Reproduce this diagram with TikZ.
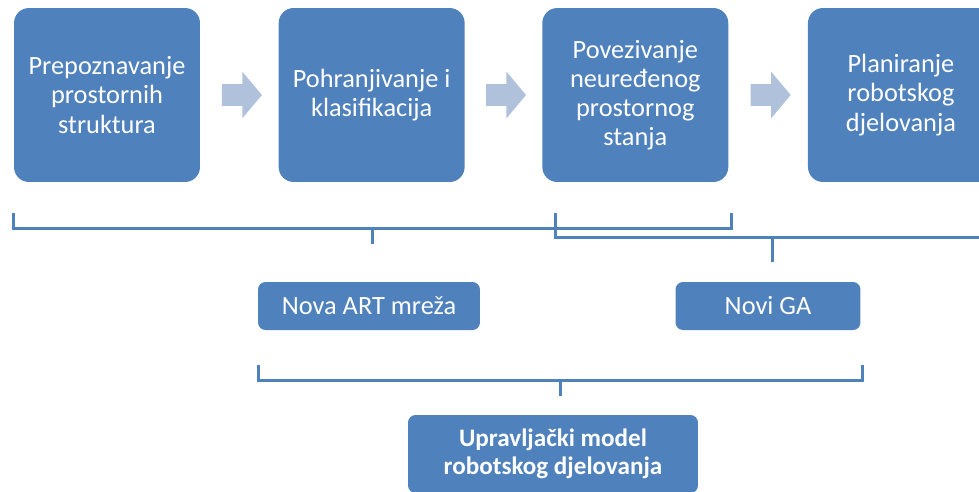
\documentclass[tikz,border=0pt]{standalone}
\usepackage{fontspec}
\setmainfont{Carlito}
\usetikzlibrary{positioning,calc,shapes.arrows}
\definecolor{boxblue}{HTML}{4F81BD}
\definecolor{arrowblue}{HTML}{B0C1DC}

\begin{document}
\begin{tikzpicture}[x=0.02cm, y=-0.02cm]
\tikzstyle{phase}=[fill=boxblue,text=white,rounded corners=0.3cm,minimum width=3.72cm,minimum height=3.48cm,align=center,font=\fontsize{15}{16.6}\selectfont]
\tikzstyle{tool}=[fill=boxblue,text=white,rounded corners=0.15cm,minimum height=0.96cm,align=center,font=\fontsize{15}{16}\selectfont]
\tikzstyle{flow}=[single arrow,fill=arrowblue,inner xsep=0pt,inner ysep=0.21cm,minimum height=0.8cm,single arrow head extend=0.25cm,single arrow tip angle=100]
\tikzstyle{brace}=[draw=boxblue,line width=1.7pt]
\clip (0,0) rectangle (979,491);

% top row
\node[phase]    (p1) at (107,95)          {Prepoznavanje\\prostornih\\struktura};
\node[phase]    (p2) [right=1.56cm of p1] {Pohranjivanje i\\klasifikacija};
\node[phase]    (p3) [right=1.54cm of p2] {Povezivanje\\neuređenog\\prostornog\\stanja};
\node[phase]    (p4) [right=1.58cm of p3] {Planiranje\\robotskog\\djelovanja};

\node[flow] (a1) at ($(p1.east)!0.5!(p2.west)+(-2,0)$) {};
\node[flow] (a2) at ($(p2.east)!0.5!(p3.west)+(-2,0)$) {};
\node[flow] (a3) at ($(p3.east)!0.5!(p4.west)+(-2,0)$) {};

% methods
\node[tool,minimum width=4.44cm] (art) at (369,306) {Nova ART mreža};
\node[tool,minimum width=3.7cm]  (ga)  at (768,306) {Novi GA};
\node[tool,minimum width=5.8cm,minimum height=1.56cm,font=\fontsize{14.3}{16}\selectfont\bfseries] (model) at (553,454) {Upravljački model\\robotskog djelovanja};

% brackets
\coordinate (b1l) at ($(p1.south west)+(0,31)$);
\coordinate (b1r) at ($(p3.south east)+(3,31)$);
\coordinate (b2l) at ($(p3.south west)+(14,31)$);
\coordinate (b2r) at ($(p4.south east)+(-5,31)$);
\coordinate (b3l) at ($(art.south west)+(1,35)$);
\coordinate (b3r) at ($(ga.south east)+(2,35)$);

\draw[brace] (b1l) -- ++(0,15) -| (b1r);
\draw[brace] ($(b1l)!0.5!(b1r)+(0,15)$) -- ++(0,16);
\draw[brace] (b2l) -- ++(0,24) -| (b2r);
\draw[brace] ($(b2l)!0.5!(b2r)+(0,24)$) -- ++(0,25);
\draw[brace] (b3l) -- ++(0,15) -| (b3r);
\draw[brace] ($(b3l)!0.5!(b3r)+(0,15)$) -- ++(0,16);
\end{tikzpicture}
\end{document}
